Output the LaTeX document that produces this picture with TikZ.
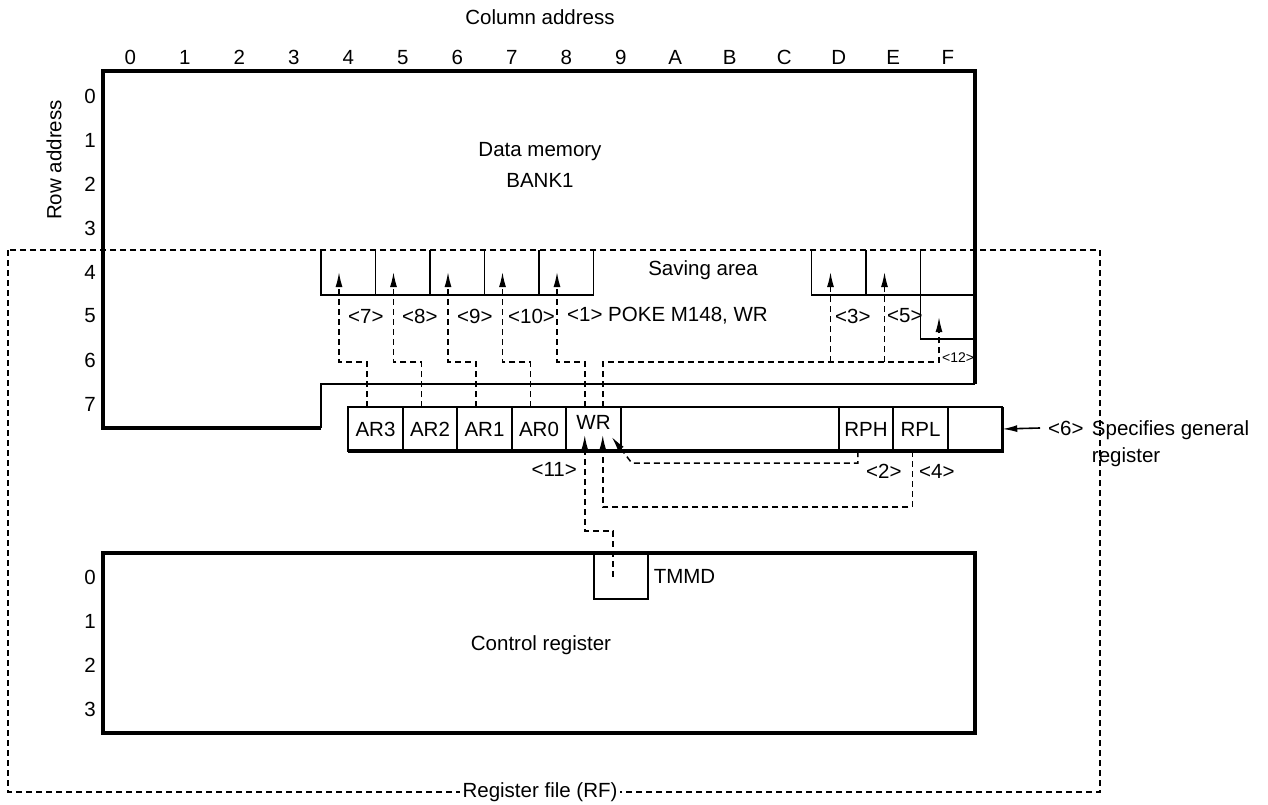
\documentclass[tikz,border=0pt]{standalone}
\usepackage{fontspec}
\setmainfont{Liberation Sans}
\usetikzlibrary{arrows.meta, positioning, calc}

\begin{document}
\begin{tikzpicture}[x=1pt, y=-1pt,
				font=\fontsize{20.5}{27}\selectfont,
				thinline/.style  = {line width=1.6pt},
				thickline/.style = {line width=3.2pt},
				regcell/.style   = {draw, line width=1.6pt, minimum width=54.5pt, minimum height=44pt,
					inner sep=0pt, outer sep=0pt},
				tip/.style       = {-{Latex[length=15pt,width=7pt]}},
				line/.style      = {tip, line width=1.5pt, dash pattern=on 6pt off 4pt},
				tag/.style       = {anchor=west, inner sep=0pt}
				]
				\useasboundingbox (0,0) rectangle (1268,805);
				
				% addresses
				\node (coltitle) at (540,17) {Column address};
				\foreach \c [count=\i from 0] in {0,1,2,3,4,5,6,7,8,9,A,B,C,D,E,F}
					\node[anchor=base] (col\i) at (130.25+54.5*\i,64.5) {\c};
				\node[rotate=90] (rowtitle) at (54,160) {Row address};
				\foreach \r in {0,...,7}
					\node (row\r) at (90,96+44*\r) {\r};
				\foreach \r in {0,...,3}
					\node (crow\r) at (90,577+44*\r) {\r};
				
				% register file
				\draw[thinline, dash pattern=on 6pt off 4pt] (8,250) rectangle (1100,792);
				\node[fill=white, inner xsep=3pt, inner ysep=1pt] (rf) at (540,792) {Register file (RF)};
				
				% data memory
				\draw[thickline] (321,428) -- (103,428) -- (103,71) -- (975,71) -- (975,384);
				\draw[thinline] (321,428) -- (321,384) -- (975,384);
				\node (dm) at (540,152) {Data memory};
				\node (bank) at (540,180) {BANK1};
				
				% saving area
				\draw[thinline] (321,250) -- (321,295) -- (593.5,295) -- (593.5,250);
				\foreach \x in {375.5,430,484.5,539}
					\draw[thinline] (\x,250) -- (\x,295);
				\draw[thinline] (811.5,250) -- (811.5,295) -- (975,295);
				\draw[thinline] (866,250) -- (866,295);
				\draw[thinline] (920.5,250) -- (920.5,339) -- (975,339);
				\node (saving) at (703,270) {Saving area};
				\foreach \n/\x/\y in {m4/339/272, m5/393.5/272, m6/448/272, m7/502.5/272, m8/557/272,
					mD/830.5/272, mE/884.5/272, mF/939/317}
					\coordinate (\n) at (\x,\y);
				
				% general register
				\node[regcell] (ar3) at (375.5,429) {AR3};
				\node[regcell, right=0pt of ar3] (ar2) {AR2};
				\node[regcell, right=0pt of ar2] (ar1) {AR1};
				\node[regcell, right=0pt of ar1] (ar0) {AR0};
				\node[regcell, right=0pt of ar0, label={[anchor=north, inner sep=8pt]north:WR}] (wr) {};
				\node[regcell, right=0pt of wr, minimum width=218pt] (gap) {};
				\node[regcell, right=0pt of gap] (rph) {RPH};
				\node[regcell, right=0pt of rph] (rpl) {RPL};
				\node[regcell, right=0pt of rpl] (rlast) {};
				\draw[thickline] (ar3.south west) -- (rlast.south east) -- (rlast.north east);
				
				\node[tag] (six) at (1048,428) {<6>};
				\node[anchor=north west, align=left, inner sep=0pt] (spec) at ([xshift=8pt]six.north east)
				{Specifies general\\register};
				\draw[thinline, tip] ([xshift=-8pt]six.west) -- (rlast.east);
				
				% control register
				\draw[thickline] (103,553) rectangle (975,733);
				\node (ctrl) at (541,645) {Control register};
				\node[regcell, minimum height=45pt] (tmmd) at (621,576.5) {};
				\node[right=2pt of tmmd] (tmmdtxt) {TMMD};
				
				% transfers
				\coordinate (upper) at (0,362);
				\foreach \r/\m in {ar3/m4, ar2/m5, ar1/m6, ar0/m7}
					\draw[line] ([xshift=18.5pt]\r.north west) |- (\m |- upper) -- (\m);
				\draw[line] ([xshift=18.5pt]wr.north west) |- (m8 |- upper) -- (m8);
				\draw[line] ([xshift=36.5pt]wr.north west) |- (mF |- upper) -- (mF);
				\draw[line] (mD |- upper) -- (mD);
				\draw[line] (mE |- upper) -- (mE);
				
				\coordinate (wrA) at ([xshift=18.5pt,yshift=16pt]wr.south west);
				\coordinate (wrB) at ([xshift=36.5pt,yshift=16pt]wr.south west);
				\coordinate (wrC) at ([xshift=-9pt,yshift=14pt]wr.south east);
				\coordinate (bend2) at ([xshift=11pt,yshift=-12pt]wr.south east);
				\coordinate (low4) at (0,507);
				\coordinate (low11) at (0,531);
				\draw[line] ([xshift=19pt]rph.south west) |- (bend2) -- (wrC);
				\draw[line] ([xshift=19pt]rpl.south west) |- (wrB |- low4) -- (wrB);
				\draw[line] ([xshift=-8pt]tmmd.center) |- (wrA |- low11) -- (wrA);
				
				% step labels
				\foreach \t/\x in {7/348, 8/402, 9/457, 10/508}
					\node[tag] (s\t) at (\x,316) {<\t>};
				\node[tag] (s1) at (567,316) {<1> POKE M148, WR};
				\node[tag] (s3) at (835,316) {<3>};
				\node[tag] (s5) at (887,316) {<5>};
				\node[tag, font=\fontsize{14}{16}\selectfont] (s12) at (942,358) {<12>};
				\node[tag] (s2) at (866,471) {<2>};
				\node[tag] (s4) at (919,471) {<4>};
				\node[anchor=east, inner sep=0pt] (s11) at (577,469) {<11>};
			\end{tikzpicture}
\end{document}
